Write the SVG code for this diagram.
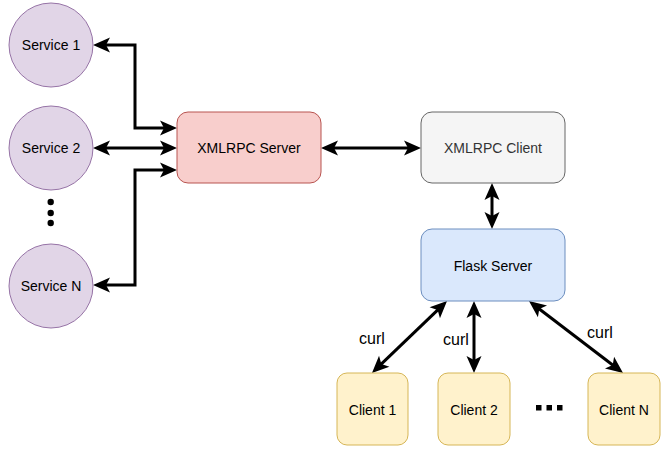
<svg xmlns="http://www.w3.org/2000/svg" width="670" height="453" viewBox="0 0 670 453">
<style>
text{font-family:"Liberation Sans",Arial,sans-serif;font-size:14px;fill:#000;text-anchor:middle;dominant-baseline:central}
.svc{fill:#e1d5e7;stroke:#9673a6;stroke-width:1}
.srv{fill:#f8cecc;stroke:#b85450;stroke-width:1}
.cli{fill:#f5f5f5;stroke:#666666;stroke-width:1}
.fl{fill:#dae8fc;stroke:#6c8ebf;stroke-width:1}
.c{fill:#fff2cc;stroke:#d6b656;stroke-width:1}
.e{fill:none;stroke:#000;stroke-width:3;marker-start:url(#ah);marker-end:url(#ah)}
.lbl{font-size:16px}
</style>
<defs>
<marker id="ah" markerUnits="userSpaceOnUse" markerWidth="17" markerHeight="15" refX="6" refY="7.5" orient="auto-start-reverse" overflow="visible">
<path d="M0,0 L17,7.5 L0,15 L4,7.5 z" fill="#000"/>
</marker>
</defs>
<g id="connectors">
<path class="e" d="M104,45 L135,45 L135,128 L166,128"/>
<path class="e" d="M104,148 L166,148"/>
<path class="e" d="M104,285 L135,285 L135,170 L166,170"/>
<path class="e" d="M332,148 L410,148"/>
<path class="e" d="M492,194 L492,218"/>
<path class="e" d="M439.1,308.6 L379.9,365.4"/>
<path class="e" d="M474,312 L474,362"/>
<path class="e" d="M537.7,307.7 L614.3,366.3"/>
<text class="lbl" x="372" y="338">curl</text>
<text class="lbl" x="456" y="339">curl</text>
<text class="lbl" x="600" y="332">curl</text>
</g>
<g id="service1"><circle class="svc" cx="51" cy="45" r="42"/><text x="51" y="45">Service 1</text></g>
<g id="service2"><circle class="svc" cx="51" cy="148" r="42"/><text x="51" y="148">Service 2</text></g>
<g id="serviceN"><circle class="svc" cx="51" cy="286" r="42"/><text x="51" y="286">Service N</text></g>
<g id="vdots" fill="#000"><circle cx="50.7" cy="202" r="3.2"/><circle cx="50.7" cy="213" r="3.2"/><circle cx="50.7" cy="223" r="3.2"/></g>
<g id="xmlrpcServer"><rect class="srv" x="177" y="112" width="144" height="71" rx="11"/><text x="249" y="148">XMLRPC Server</text></g>
<g id="xmlrpcClient"><rect class="cli" x="421" y="112" width="144" height="71" rx="11"/><text x="493" y="148" style="fill:#333333">XMLRPC Client</text></g>
<g id="flaskServer"><rect class="fl" x="421" y="229" width="144" height="72" rx="11"/><text x="493" y="266">Flask Server</text></g>
<g id="client1"><rect class="c" x="337" y="373" width="71" height="72" rx="10"/><text x="372.5" y="410">Client 1</text></g>
<g id="client2"><rect class="c" x="438" y="373" width="72" height="72" rx="10"/><text x="474" y="410">Client 2</text></g>
<g id="clientN"><rect class="c" x="588" y="373" width="72" height="72" rx="10"/><text x="624" y="410">Client N</text></g>
<g id="hdots" fill="#000"><rect x="536" y="405" width="5.5" height="5.5"/><rect x="546.5" y="405" width="5.5" height="5.5"/><rect x="557" y="405" width="5.5" height="5.5"/></g>
</svg>
